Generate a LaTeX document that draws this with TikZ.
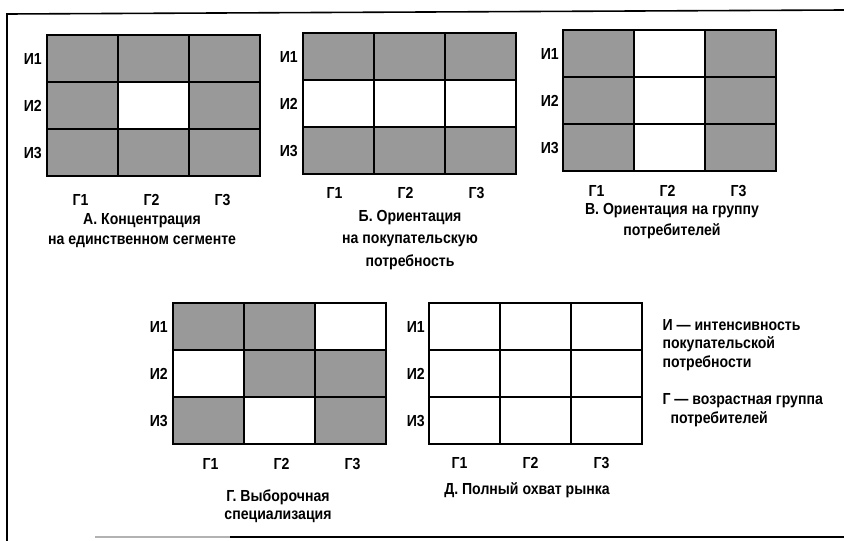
\documentclass[tikz,border=0pt]{standalone}
\usepackage{fontspec}
\setmainfont[FakeStretch=0.88]{Liberation Sans}
\usetikzlibrary{positioning}
\newcommand{\lblfont}{\fontsize{16}{19}\bfseries}
\tikzset{
  cellbox/.style={draw=black, line width=2.4pt},
  thinbox/.style={draw=black, line width=1.6pt},
  shaded/.style={fill=black!40},
  rowlbl/.style={anchor=base east, inner sep=1pt},
  collbl/.style={anchor=base, inner sep=1pt},
  caption/.style={align=center, font=\fontsize{16}{20}\bfseries},
  legend/.style={align=left, anchor=west, font=\fontsize{16}{18.5}\bfseries}
}

\begin{document}
\begin{tikzpicture}[x=1pt, y=-1pt, every node/.style={font=\lblfont}]
  \useasboundingbox (0,0) rectangle (844,541);

  % Frame
  \draw[line width=1.6pt] (7,541) -- (7,14) -- (844,10);
  \draw[line width=1.2pt, black!30] (95,537) -- (230,537);
  \draw[line width=1.6pt] (230,537) -- (844,537);

  % Panel A
  \begin{scope}[shift={(47,35)}]
    \foreach \c/\r in {0/0,1/0,2/0,0/1,2/1,0/2,1/2,2/2}
      \fill[shaded] (\c*71,\r*47) rectangle ++(71,47);
    \foreach \c in {0,1,2} \foreach \r in {0,1,2}
      \draw[cellbox] (\c*71,\r*47) rectangle ++(71,47);
    \foreach \r in {1,2,3}
      \node[rowlbl] (a-i\r) at (-4,{(\r-0.5)*47+6}) {И\r};
    \foreach \c in {1,2,3}
      \node[collbl] (a-g\c) at ({(\c-0.5)*71-2},170) {Г\c};
  \end{scope}
  \node[caption] (a-cap) at (142,231) {А. Концентрация\\на единственном сегменте};

  % Panel B
  \begin{scope}[shift={(303,33)}]
    \foreach \c/\r in {0/0,1/0,2/0,0/2,1/2,2/2}
      \fill[shaded] (\c*71,\r*47) rectangle ++(71,47);
    \foreach \c in {0,1,2} \foreach \r in {0,1,2}
      \draw[cellbox] (\c*71,\r*47) rectangle ++(71,47);
    \foreach \r in {1,2,3}
      \node[rowlbl] (b-i\r) at (-4,{(\r-0.5)*47+6}) {И\r};
    \foreach \c in {1,2,3}
      \node[collbl] (b-g\c) at ({(\c-0.5)*71-4},165) {Г\c};
  \end{scope}
  \node[caption, font=\fontsize{16}{22.5}\bfseries] (b-cap) at (410,240)
    {Б. Ориентация\\на покупательскую\\потребность};

  % Panel V
  \begin{scope}[shift={(563,30)}]
    \foreach \c/\r in {0/0,2/0,0/1,2/1,0/2,2/2}
      \fill[shaded] (\c*71,\r*47) rectangle ++(71,47);
    \foreach \c in {0,1,2} \foreach \r in {0,1,2}
      \draw[cellbox] (\c*71,\r*47) rectangle ++(71,47);
    \foreach \r in {1,2,3}
      \node[rowlbl] (v-i\r) at (-3,{(\r-0.5)*47+6}) {И\r};
    \foreach \c in {1,2,3}
      \node[collbl] (v-g\c) at ({(\c-0.5)*71-2},166) {Г\c};
  \end{scope}
  \node[caption, font=\fontsize{16}{21}\bfseries] (v-cap) at (672,221)
    {В. Ориентация на группу\\потребителей};

  % Panel G
  \begin{scope}[shift={(173,303)}]
    \foreach \c/\r in {0/0,1/0,1/1,2/1,0/2,2/2}
      \fill[shaded] (\c*71,\r*47) rectangle ++(71,47);
    \foreach \c in {0,1,2} \foreach \r in {0,1,2}
      \draw[cellbox] (\c*71,\r*47) rectangle ++(71,47);
    \foreach \r in {1,2,3}
      \node[rowlbl] (g-i\r) at (-4,{(\r-0.5)*47+6}) {И\r};
    \foreach \c in {1,2,3}
      \node[collbl] (g-g\c) at ({(\c-0.5)*71+2},166) {Г\c};
  \end{scope}
  \node[caption, font=\fontsize{16}{18.5}\bfseries] (g-cap) at (278,506) {Г. Выборочная\\специализация};

  % Panel D
  \begin{scope}[shift={(429,303)}]
    \foreach \c in {0,1,2} \foreach \r in {0,1,2}
      \draw[thinbox] (\c*71,\r*47) rectangle ++(71,47);
    \foreach \r in {1,2,3}
      \node[rowlbl] (d-i\r) at (-3,{(\r-0.5)*47+6}) {И\r};
    \foreach \c in {1,2,3}
      \node[collbl] (d-g\c) at ({(\c-0.5)*71-5},165) {Г\c};
  \end{scope}
  \node[caption] (d-cap) at (527,490) {Д. Полный охват рынка};

  % Legend
  \node[legend] (leg-i) at (659,345) {И --- интенсивность\\покупательской\\потребности};
  \node[legend] (leg-g) at (659,410) {Г --- возрастная группа\\\hspace*{8pt}потребителей};
\end{tikzpicture}
\end{document}
